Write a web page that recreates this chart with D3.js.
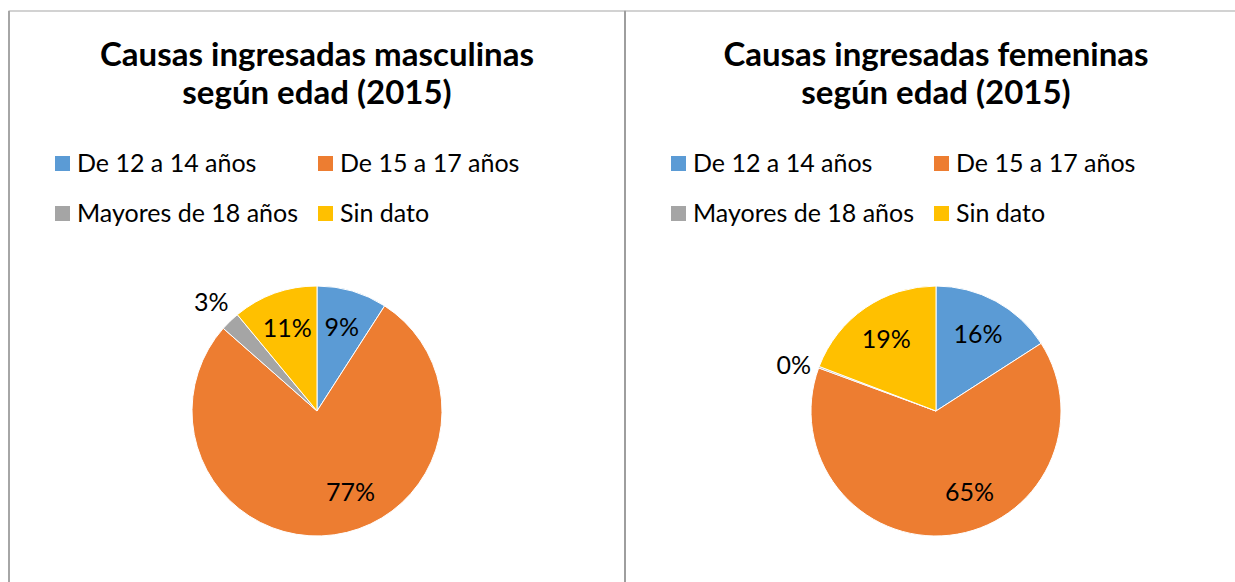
<!DOCTYPE html>
<html>
<head>
<meta charset="utf-8">
<script src="https://cdn.jsdelivr.net/npm/d3@7"></script>
<style>
  body { margin: 0; background: #fff; }
  svg { display: block; font-family: Lato, "Open Sans", sans-serif; }
</style>
</head>
<body>
<div id="chart"></div>
<script>
// Categories shared by both pies
const categories = ["De 12 a 14 años", "De 15 a 17 años", "Mayores de 18 años", "Sin dato"];
const colors = ["#5B9BD5", "#ED7D31", "#A5A5A5", "#FFC000"];

// Shares (percent)
const masculinas = [9.1, 77.4, 2.5, 11.0];
const femeninas = [15.9, 64.7, 0.2, 19.2];

const titlesMasc = ["Causas ingresadas masculinas", "según edad (2015)"];
const titlesFem = ["Causas ingresadas femeninas", "según edad (2015)"];

const width = 1235, height = 582;

const svg = d3.select("#chart")
    .append("svg")
    .attr("width", width)
    .attr("height", height);

// Panels: the two chart boxes side by side
const panels = [
    { left: 9, right: 625, values: masculinas, titles: titlesMasc },
    { left: 625, right: 1247, values: femeninas, titles: titlesFem }
];

const radius = 125;
const pieY = 411;

const pie = d3.pie().sort(null).value(d => d);
const arc = d3.arc().innerRadius(0).outerRadius(radius);

panels.forEach(p => {
    const cx = (p.left + p.right) / 2;

    // Box border
    svg.append("rect")
        .attr("x", p.left)
        .attr("y", 11)
        .attr("width", p.right - p.left)
        .attr("height", height + 20)
        .attr("fill", "none")
        .attr("stroke", "#A6A6A6")
        .attr("stroke-width", 1);

    // Title
    svg.append("text")
        .attr("x", cx)
        .attr("y", 66)
        .attr("text-anchor", "middle")
        .style("font-size", "33px")
        .style("font-weight", "bold")
        .selectAll("tspan")
        .data(p.titles)
        .enter()
        .append("tspan")
        .attr("x", cx)
        .attr("dy", (d, i) => i === 0 ? 0 : 38)
        .text(d => d);

    // Legend, two columns
    const legend = svg.append("g")
        .attr("transform", `translate(${p.left + 46}, 0)`);

    const items = legend.selectAll(".legend-item")
        .data(categories)
        .enter()
        .append("g")
        .attr("class", "legend-item")
        .attr("transform", (d, i) => `translate(${(i % 2) * 263}, ${163.5 + Math.floor(i / 2) * 50})`);

    items.append("rect")
        .attr("x", 0)
        .attr("y", -7.5)
        .attr("width", 15)
        .attr("height", 15)
        .attr("fill", (d, i) => colors[i]);

    items.append("text")
        .attr("x", 22)
        .attr("y", 0)
        .attr("dy", "0.35em")
        .style("font-size", "25px")
        .attr("fill", "#000")
        .text(d => d);

    // Pie
    const g = svg.append("g")
        .attr("transform", `translate(${cx}, ${pieY})`);

    const arcs = pie(p.values);

    g.selectAll("path")
        .data(arcs)
        .enter()
        .append("path")
        .attr("d", arc)
        .attr("fill", (d, i) => colors[i])
        .attr("stroke", "#fff")
        .attr("stroke-width", 1);

    // Data labels: inside for regular slices, outside for tiny ones
    g.selectAll(".label")
        .data(arcs)
        .enter()
        .append("text")
        .attr("class", "label")
        .attr("text-anchor", "middle")
        .attr("dy", "0.35em")
        .style("font-size", "25px")
        .attr("fill", "#000")
        .attr("transform", d => {
            const share = d.data;
            let a = (d.startAngle + d.endAngle) / 2;
            let r = radius * 0.7;
            if (share > 50) a = Math.PI * 0.875;
            if (share < 5) r = radius + 27;
            return `translate(${r * Math.sin(a)}, ${-r * Math.cos(a) + (share < 1 ? 8 : 0)})`;
        })
        .text(d => Math.round(d.data) + "%");
});

// Thicker divider / left edge like the reference
svg.append("line")
    .attr("x1", 625).attr("x2", 625)
    .attr("y1", 11).attr("y2", height)
    .attr("stroke", "#9E9E9E")
    .attr("stroke-width", 2);
svg.append("line")
    .attr("x1", 9).attr("x2", 9)
    .attr("y1", 11).attr("y2", height)
    .attr("stroke", "#A6A6A6")
    .attr("stroke-width", 2);
</script>
</body>
</html>
